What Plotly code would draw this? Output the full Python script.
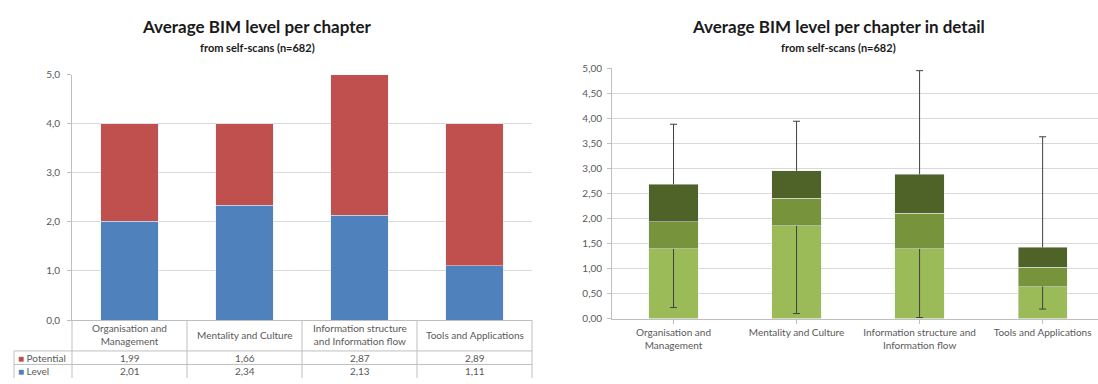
import plotly.graph_objects as go

# Chapters of the BIM self-scan
chapters_table = ["Organisation and<br>Management", "Mentality and Culture",
                  "Information structure<br>and Information flow", "Tools and Applications"]
chapters_axis = ["Organisation and<br>Management", "Mentality and Culture",
                 "Information structure and<br>Information flow", "Tools and Applications"]

# Left chart: average level and remaining potential per chapter
level = [2.01, 2.34, 2.13, 1.11]
potential = [1.99, 1.66, 2.87, 2.89]

# Right chart: spread of scores per chapter
lower_band = [1.39, 1.85, 1.39, 0.64]
middle_band = [1.93, 2.40, 2.10, 1.02]
upper_band = [2.68, 2.95, 2.88, 1.42]
whisker_min = [0.22, 0.10, 0.02, 0.19]
whisker_max = [3.88, 3.94, 4.95, 3.63]

BLUE = "#4F81BD"
RED = "#C0504D"
GREEN_LIGHT = "#9BBB59"
GREEN_MID = "#77933C"
GREEN_DARK = "#4F6228"
GRID = "#D9D9D9"
AXIS = "#BFBFBF"
TEXT = "#595959"
FONT = "Lato"

idx = list(range(len(chapters_table)))

fig = go.Figure()

# ---- left chart: stacked level + potential
fig.add_trace(go.Bar(x=idx, y=level, name="Level", marker_color=BLUE,
                     width=0.5, xaxis="x", yaxis="y"))
fig.add_trace(go.Bar(x=idx, y=potential, name="Potential", marker_color=RED,
                     width=0.5, xaxis="x", yaxis="y"))

# ---- right chart: stacked bands
seg1 = lower_band
seg2 = [m - l for m, l in zip(middle_band, lower_band)]
seg3 = [u - m for u, m in zip(upper_band, middle_band)]
for seg, col in [(seg1, GREEN_LIGHT), (seg2, GREEN_MID), (seg3, GREEN_DARK)]:
    fig.add_trace(go.Bar(x=idx, y=seg, marker_color=col, width=0.4,
                         xaxis="x2", yaxis="y2"))

# whiskers: min -> lower band, upper band -> max
wx, wy = [], []
for i in idx:
    wx += [i, i, None, i, i, None]
    wy += [whisker_min[i], lower_band[i], None, upper_band[i], whisker_max[i], None]
fig.add_trace(go.Scatter(x=wx, y=wy, mode="lines", line=dict(color="#404040", width=1),
                         xaxis="x2", yaxis="y2", hoverinfo="skip"))
fig.add_trace(go.Scatter(x=idx + idx, y=whisker_min + whisker_max, mode="markers",
                         marker=dict(symbol="line-ew", size=5,
                                     line=dict(color="#404040", width=1)),
                         xaxis="x2", yaxis="y2", hoverinfo="skip"))

tickfont = dict(family=FONT, size=10, color=TEXT)

fig.update_layout(
    width=1098, height=384,
    margin=dict(l=0, r=0, t=0, b=0),
    paper_bgcolor="white", plot_bgcolor="white",
    showlegend=False, barmode="stack", separators=",.",
    font=dict(family=FONT, color=TEXT),
    xaxis=dict(domain=[72 / 1098, 532 / 1098], range=[-0.5, 3.5],
               showticklabels=False, showgrid=False, zeroline=False,
               showline=True, linecolor=AXIS, linewidth=1, ticks=""),
    yaxis=dict(domain=[60 / 384, 314 / 384], range=[0, 5], dtick=1,
               tickformat=".1f", tickfont=tickfont, showgrid=True, gridcolor=GRID,
               zeroline=False, showline=True, linecolor=AXIS, ticks="outside",
               ticklen=4, tickcolor=AXIS, ticklabelstandoff=5),
    xaxis2=dict(domain=[612 / 1098, 1], range=[-0.5, 3.45], anchor="y2",
                tickvals=idx, ticktext=chapters_axis, tickfont=tickfont,
                showgrid=False, zeroline=False, showline=True, linecolor=AXIS,
                ticks="outside", tickson="boundaries", ticklen=4, tickcolor=AXIS),
    yaxis2=dict(domain=[61.5 / 384, 320.7 / 384], range=[0, 5], dtick=0.5,
                anchor="x2", tickformat=".2f", tickfont=tickfont, showgrid=True,
                gridcolor=GRID, zeroline=False, showline=True, linecolor=AXIS,
                ticks="outside", ticklen=4, tickcolor=AXIS, ticklabelstandoff=3),
)

ann = []
# titles
for cx, title in [(257, "Average BIM level per chapter"),
                  (838, "Average BIM level per chapter in detail")]:
    ann.append(dict(x=cx / 1098, y=1 - 20 / 384, xref="paper", yref="paper",
                    text=f"<b>{title}</b>", showarrow=False, xanchor="center",
                    yanchor="middle", font=dict(family=FONT, size=17, color="#1a1a1a")))
    ann.append(dict(x=cx / 1098, y=1 - 42 / 384, xref="paper", yref="paper",
                    text="<b>from self-scans (n=682)</b>", showarrow=False,
                    xanchor="center", yanchor="middle",
                    font=dict(family=FONT, size=11, color="#1a1a1a")))

# data table under the left chart
header_y = (384 - 339) / 384
row_pot_y = (384 - 363) / 384
row_lvl_y = (384 - 377) / 384
cell_font = dict(family=FONT, size=10, color=TEXT)
for i in idx:
    ann.append(dict(x=i, y=header_y, xref="x", yref="paper", text=chapters_table[i],
                    showarrow=False, xanchor="center", yanchor="middle", font=cell_font))
    ann.append(dict(x=i, y=row_pot_y, xref="x", yref="paper",
                    text=f"{potential[i]:.2f}".replace(".", ","),
                    showarrow=False, xanchor="center", yanchor="middle", font=cell_font))
    ann.append(dict(x=i, y=row_lvl_y, xref="x", yref="paper",
                    text=f"{level[i]:.2f}".replace(".", ","),
                    showarrow=False, xanchor="center", yanchor="middle", font=cell_font))

left_edge = -58 / 460
ann.append(dict(x=left_edge, y=row_pot_y, xref="x domain", yref="paper",
                text=f"<span style='color:{RED}'>■</span> Potential", showarrow=False,
                xanchor="left", yanchor="middle", xshift=2, font=cell_font))
ann.append(dict(x=left_edge, y=row_lvl_y, xref="x domain", yref="paper",
                text=f"<span style='color:{BLUE}'>■</span> Level", showarrow=False,
                xanchor="left", yanchor="middle", xshift=2, font=cell_font))

fig.update_layout(annotations=ann)

shapes = []
line_style = dict(color=AXIS, width=1)
table_top = 60 / 384
row1_top = 28 / 384
row2_top = 14 / 384
for k in range(5):
    shapes.append(dict(type="line", xref="x domain", yref="paper", x0=k / 4, x1=k / 4,
                       y0=0, y1=table_top, line=line_style))
shapes.append(dict(type="line", xref="x domain", yref="paper", x0=left_edge, x1=left_edge,
                   y0=0, y1=row1_top, line=line_style))
for yy in (row1_top, row2_top):
    shapes.append(dict(type="line", xref="x domain", yref="paper", x0=left_edge, x1=1,
                       y0=yy, y1=yy, line=line_style))
fig.update_layout(shapes=shapes)

fig.write_html("out.html")
